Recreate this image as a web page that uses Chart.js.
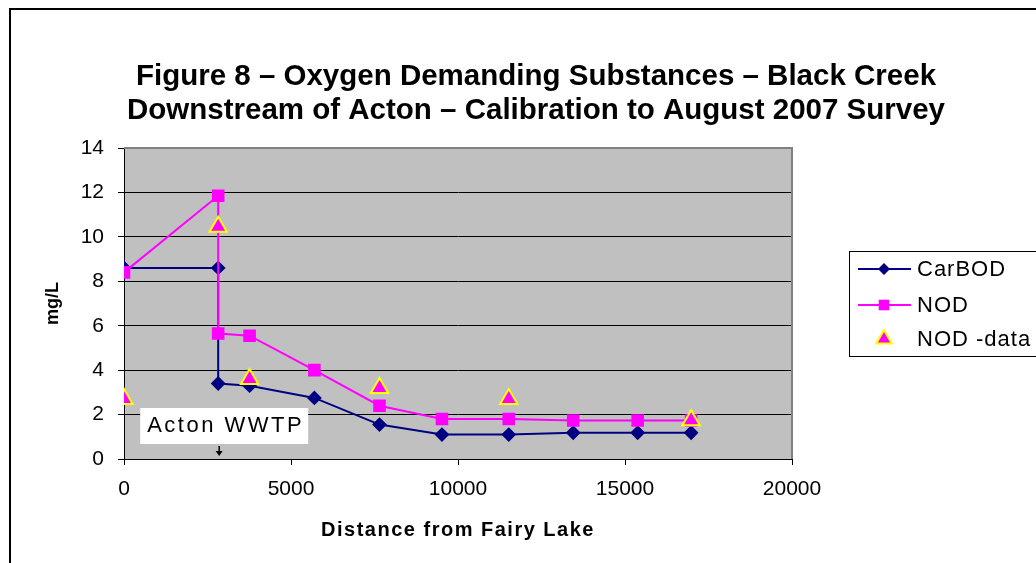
<!DOCTYPE html>
<html>
<head>
<meta charset="utf-8">
<script src="https://cdn.jsdelivr.net/npm/chart.js@4.4.1/dist/chart.umd.min.js"></script>
<style>
  html, body { margin: 0; padding: 0; background: #fff; }
  #wrap { width: 1036px; height: 563px; }
</style>
</head>
<body>
<div id="wrap"><canvas id="chart" width="1036" height="563"></canvas></div>
<script>
// distance from Fairy Lake (m) for the model output
var distance   = [0, 2820, 2820, 3760, 5700, 7650, 9520, 11520, 13450, 15380, 16980];
var carBOD     = [8.6, 8.6, 3.4, 3.3, 2.75, 1.55, 1.1, 1.1, 1.18, 1.18, 1.18];
var nod        = [8.4, 11.85, 5.65, 5.55, 4.0, 2.4, 1.8, 1.8, 1.73, 1.73, 1.73];
// observed NOD, August 2007 survey
var dataDist   = [0, 2820, 3760, 7650, 11520, 16980];
var nodData    = [2.7, 10.45, 3.6, 3.2, 2.7, 1.75];

var titleLines = ["Figure 8 \u2013 Oxygen Demanding Substances \u2013 Black Creek",
                  "Downstream of Acton \u2013 Calibration to August 2007 Survey"];
var xTitle = "Distance from Fairy Lake";
var yTitle = "mg/L";
var wwtpLabel = "Acton WWTP";
var wwtpAt = 2850;

var FONT = "'Liberation Sans', Arial, sans-serif";

function pts(xs, ys) {
    return xs.map(function(x, i) { return {x: x, y: ys[i]}; });
}

var series = [
    {label: "CarBOD", data: pts(distance, carBOD), borderColor: "#000080", backgroundColor: "#000080",
     pointStyle: "rectRot", pointRadius: 6, borderWidth: 2, showLine: true, order: 3},
    {label: "NOD", data: pts(distance, nod), borderColor: "#FF00FF", backgroundColor: "#FF00FF",
     pointStyle: "rect", pointRadius: 7.5, borderWidth: 2, showLine: true, order: 2},
    {label: "NOD -data", data: pts(dataDist, nodData), borderColor: "#FFFF00", backgroundColor: "#FF00FF",
     pointStyle: "triangle", pointRadius: 10, pointBorderWidth: 2, borderWidth: 2, showLine: false, order: 1}
];

var frame = {
    id: 'frame',
    beforeDraw: function(chart) {
        var ctx = chart.ctx, a = chart.chartArea;
        ctx.save();
        ctx.fillStyle = '#fff';
        ctx.fillRect(0, 0, chart.width, chart.height);
        ctx.fillStyle = '#C0C0C0';
        ctx.fillRect(a.left, a.top, a.right - a.left, a.bottom - a.top);
        // outer frame, runs off the right and bottom
        ctx.strokeStyle = '#000';
        ctx.lineWidth = 2;
        ctx.beginPath();
        ctx.moveTo(10, chart.height + 5);
        ctx.lineTo(10, 9);
        ctx.lineTo(chart.width + 5, 9);
        ctx.stroke();
        ctx.restore();
    },
    beforeDatasetsDraw: function(chart) {
        var ctx = chart.ctx, a = chart.chartArea;
        ctx.save();
        ctx.strokeStyle = '#808080';
        ctx.lineWidth = 2;
        ctx.beginPath();
        ctx.moveTo(a.left, a.top);
        ctx.lineTo(a.right, a.top);
        ctx.lineTo(a.right, a.bottom);
        ctx.stroke();
        ctx.restore();
    },
    afterDraw: function(chart) {
        var ctx = chart.ctx, a = chart.chartArea;
        ctx.save();
        // title
        ctx.fillStyle = '#000';
        ctx.textAlign = 'center';
        ctx.textBaseline = 'middle';
        ctx.font = 'bold 29.5px ' + FONT;
        ctx.fillText(titleLines[0], 536, 77);
        ctx.fillText(titleLines[1], 536, 111);

        // axis titles
        ctx.font = 'bold 20px ' + FONT;
        ctx.letterSpacing = '1.5px';
        ctx.fillText(xTitle, (a.left + a.right) / 2, 530);
        ctx.letterSpacing = '0px';
        ctx.save();
        ctx.translate(53, (a.top + a.bottom) / 2);
        ctx.rotate(-Math.PI / 2);
        ctx.font = 'bold 18px ' + FONT;
        ctx.fillText(yTitle, 0, 0);
        ctx.restore();

        // Acton WWTP note with arrow
        var ax = chart.scales.x.getPixelForValue(wwtpAt);
        ctx.fillStyle = '#fff';
        ctx.fillRect(ax - 79, a.bottom - 51, 168, 36);
        ctx.fillStyle = '#000';
        ctx.textAlign = 'left';
        ctx.font = '22px ' + FONT;
        ctx.letterSpacing = '2.5px';
        ctx.fillText(wwtpLabel, ax - 72, a.bottom - 33);
        ctx.letterSpacing = '0px';
        ctx.strokeStyle = '#000';
        ctx.lineWidth = 1.5;
        ctx.beginPath();
        ctx.moveTo(ax, a.bottom - 13);
        ctx.lineTo(ax, a.bottom - 7);
        ctx.stroke();
        ctx.beginPath();
        ctx.moveTo(ax - 3.5, a.bottom - 8);
        ctx.lineTo(ax + 3.5, a.bottom - 8);
        ctx.lineTo(ax, a.bottom - 3);
        ctx.closePath();
        ctx.fill();

        // legend
        var lx = 849.5, ly = 251.5;
        ctx.fillStyle = '#fff';
        ctx.fillRect(lx, ly, 200, 105);
        ctx.strokeStyle = '#000';
        ctx.lineWidth = 1;
        ctx.strokeRect(lx, ly, 200, 105);
        var rows = [269, 305, 339];
        chart.data.datasets.forEach(function(ds, i) {
            var y = rows[i];
            if (ds.showLine) {
                ctx.strokeStyle = ds.borderColor;
                ctx.lineWidth = 2;
                ctx.beginPath();
                ctx.moveTo(858, y);
                ctx.lineTo(911, y);
                ctx.stroke();
            }
            ctx.fillStyle = ds.backgroundColor;
            ctx.strokeStyle = ds.borderColor;
            ctx.lineWidth = ds.pointBorderWidth || 1;
            Chart.helpers.drawPoint(ctx, {
                pointStyle: ds.pointStyle,
                radius: ds.pointStyle === 'triangle' ? 9 : ds.pointRadius,
                rotation: 0,
                borderWidth: ds.pointBorderWidth || 0
            }, 884, y);
            ctx.fillStyle = '#000';
            ctx.textAlign = 'left';
            ctx.font = '22px ' + FONT;
            ctx.letterSpacing = '1px';
            ctx.fillText(ds.label, 917, y + 1);
            ctx.letterSpacing = '0px';
        });
        ctx.restore();
    }
};

new Chart(document.getElementById('chart').getContext('2d'), {
    type: 'scatter',
    data: {datasets: series},
    options: {
        responsive: false,
        animation: false,
        layout: {padding: {left: 0, top: 148, right: 244, bottom: 0}},
        plugins: {legend: {display: false}, tooltip: {enabled: false}},
        elements: {line: {tension: 0}},
        scales: {
            x: {
                type: 'linear', min: 0, max: 20000,
                afterFit: function(s) { s.height = 104; },
                ticks: {stepSize: 5000, autoSkip: false, maxRotation: 0, padding: 12,
                        callback: function(v) { return String(v); },
                        color: '#000', font: {family: FONT, size: 21}},
                grid: {drawOnChartArea: false, drawTicks: true, tickLength: 6, tickColor: '#000'},
                border: {color: '#000', width: 1}
            },
            y: {
                type: 'linear', min: 0, max: 14,
                afterFit: function(s) { s.width = 124; },
                ticks: {stepSize: 2, padding: 14, color: '#000', font: {family: FONT, size: 21}},
                grid: {color: '#000', lineWidth: 1, drawTicks: true, tickLength: 6, tickColor: '#000'},
                border: {color: '#000', width: 1}
            }
        }
    },
    plugins: [frame]
});
</script>
</body>
</html>
